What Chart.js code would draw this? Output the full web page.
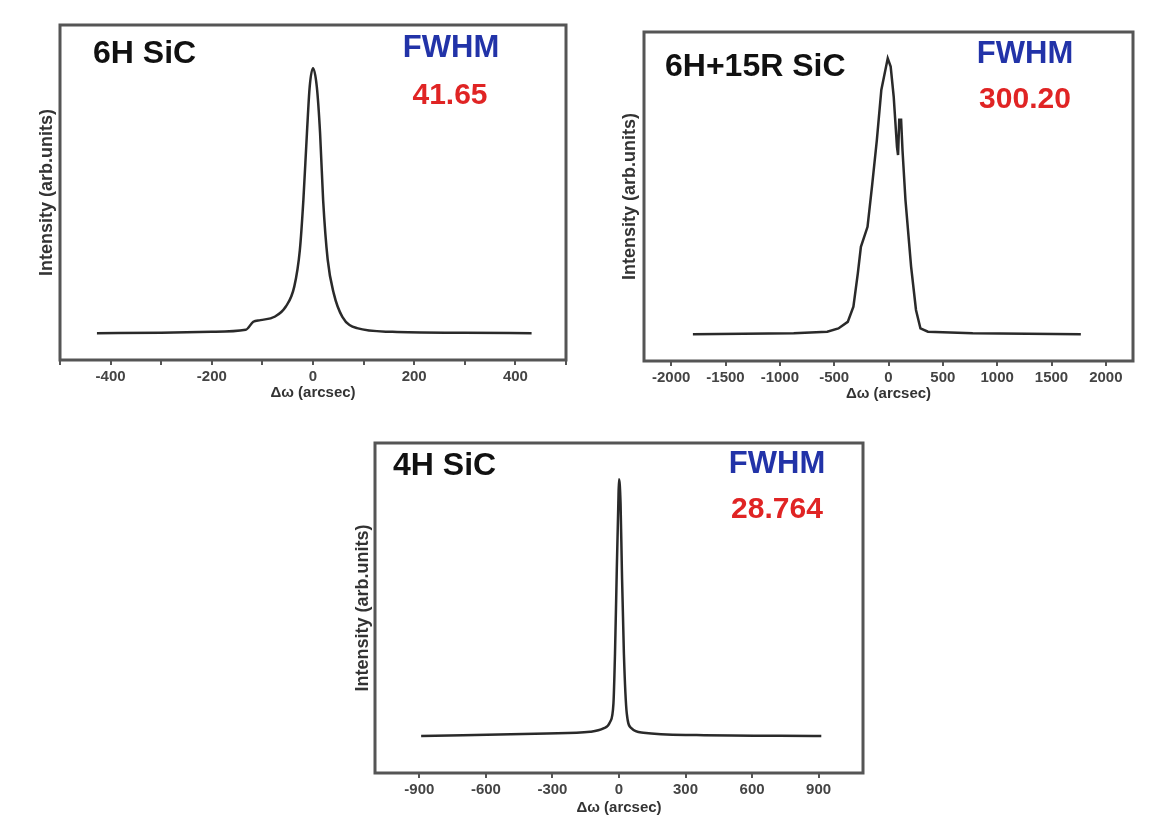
<!DOCTYPE html>
<html>
<head>
<meta charset="utf-8">
<script src="https://cdn.jsdelivr.net/npm/chart.js@4/dist/chart.umd.min.js"></script>
<style>
  html, body { margin: 0; padding: 0; background: #fff; }
  body { width: 1166px; height: 831px; position: relative; overflow: hidden; }
  canvas { position: absolute; }
</style>
</head>
<body>
<canvas id="c1" width="580" height="410" style="left:0px;top:0px;"></canvas>
<canvas id="c2" width="586" height="410" style="left:580px;top:0px;"></canvas>
<canvas id="c3" width="600" height="416" style="left:300px;top:415px;"></canvas>
<script>
// ---- data (intensity in arbitrary units) ----
const sic6hX = [-427, -300, -200, -133, -118, -104, -76, -54, -37, -26, -19, -12, -6.5, 0, 7.5, 14, 20, 29, 41, 58, 87, 157, 298, 432];
const sic6hY = [8.0, 8.1, 8.4, 9.0, 11.4, 11.9, 12.9, 15.9, 21.9, 32.8, 47.8, 67.7, 81.6, 87.1, 81.6, 67.7, 47.8, 30.0, 19.9, 12.9, 9.5, 8.4, 8.1, 8.0];

const sic6h15rX = [-1800, -872, -564, -461, -375, -323, -282, -254, -193, -152, -107, -66, -7, 20, 48, 78, 88, 99, 116, 129, 156, 208, 253, 294, 363, 775, 1770];
const sic6h15rY = [8.1, 8.4, 8.9, 9.9, 11.9, 16.5, 26.7, 34.7, 40.8, 53.0, 67.2, 82.4, 92.0, 89.5, 80.3, 65.1, 62.6, 73.3, 73.3, 64.0, 49.0, 28.7, 15.5, 9.9, 8.9, 8.4, 8.1];

const sic4hX = [-892, -325, -130, -70, -40, -25, -18, -10, -3, 0, 7, 13, 22, 35, 57, 110, 350, 912];
const sic4hY = [11.2, 12.0, 12.5, 13.5, 15.5, 21.1, 36.3, 61.5, 81.7, 89.0, 81.7, 61.5, 36.3, 18.1, 13.5, 12.2, 11.5, 11.2];

const sampleNames = ['6H SiC', '6H+15R SiC', '4H SiC'];
const fwhmValues = ['41.65', '300.20', '28.764'];
const xRanges = [[-500, 500], [-2250, 2250], [-1100, 1100]];
// tick marks (all) and which of them carry a label
const tickMarks1 = [-500, -400, -300, -200, -100, 0, 100, 200, 300, 400, 500];
const tickLabels1 = [-400, -200, 0, 200, 400];
const tickMarks2 = [-2000, -1500, -1000, -500, 0, 500, 1000, 1500, 2000];
const tickLabels2 = [-2000, -1500, -1000, -500, 0, 500, 1000, 1500, 2000];
const tickMarks3 = [-900, -600, -300, 0, 300, 600, 900];
const tickLabels3 = [-900, -600, -300, 0, 300, 600, 900];
const tickMarks = [tickMarks1, tickMarks2, tickMarks3];
const tickLabels = [tickLabels1, tickLabels2, tickLabels3];

const xTitle = 'Δω (arcsec)';
const yTitle = 'Intensity (arb.units)';

const framePlugin = {
  id: 'frameText',
  afterDraw(chart, args, opts) {
    const { ctx, chartArea: a } = chart;
    ctx.save();
    ctx.strokeStyle = '#555';
    ctx.lineWidth = 3;
    ctx.strokeRect(a.left, a.top, a.right - a.left, a.bottom - a.top);
    (opts.texts || []).forEach(t => {
      ctx.font = t.font;
      ctx.fillStyle = t.color;
      ctx.textAlign = t.align;
      ctx.textBaseline = 'middle';
      ctx.fillText(t.text, t.x, t.y);
    });
    ctx.restore();
  }
};

const F = 'Liberation Sans, Arial, sans-serif';

function makeChart(id, xs, ys, idx, layout, tension) {
  const pts = xs.map((x, i) => ({ x: x, y: ys[i] }));
  const labels = tickLabels[idx];
  return new Chart(document.getElementById(id), {
    type: 'line',
    data: {
      datasets: [{
        data: pts,
        borderColor: '#2a2a2a',
        borderWidth: 2.5,
        pointRadius: 0,
        fill: false,
        tension: tension,
        cubicInterpolationMode: tension > 0 ? 'monotone' : 'default'
      }]
    },
    options: {
      responsive: false,
      animation: false,
      devicePixelRatio: 1,
      layout: { padding: layout.padding },
      plugins: {
        legend: { display: false },
        tooltip: { enabled: false },
        frameText: { texts: layout.texts }
      },
      scales: {
        x: {
          type: 'linear',
          min: xRanges[idx][0],
          max: xRanges[idx][1],
          afterBuildTicks: s => { s.ticks = tickMarks[idx].map(v => ({ value: v })); },
          afterFit: s => { s.height = layout.xh; },
          grid: { display: true, drawOnChartArea: false, drawTicks: true, tickLength: 5, color: '#555', lineWidth: 2 },
          border: { display: false },
          ticks: {
            autoSkip: false,
            maxRotation: 0,
            padding: 3,
            color: '#444',
            font: { family: F, size: 15, weight: 'bold' },
            callback: v => (labels.includes(v) ? String(v) : '')
          },
          title: {
            display: true,
            text: xTitle,
            color: '#333',
            font: { family: F, size: 15, weight: 'bold' },
            padding: { top: 0, bottom: layout.xtPad }
          }
        },
        y: {
          min: 0,
          max: 100,
          afterFit: s => { s.width = layout.yw; },
          ticks: { display: false },
          grid: { display: false },
          border: { display: false },
          title: {
            display: true,
            text: yTitle,
            color: '#333',
            font: { family: F, size: 18, weight: 'bold' },
            padding: { top: layout.ytPad, bottom: 0 }
          }
        }
      }
    },
    plugins: [framePlugin]
  });
}

const blue = '#2233a8';
const red = '#e02424';

makeChart('c1', sic6hX, sic6hY, 0, {
  padding: { left: 0, top: 25, right: 14, bottom: 0 },
  xh: 50, yw: 60, xtPad: 8.5, ytPad: 36,
  texts: [
    { text: sampleNames[0], x: 93, y: 54, align: 'left', color: '#111', font: 'bold 32px ' + F },
    { text: 'FWHM', x: 451, y: 48, align: 'center', color: blue, font: 'bold 31px ' + F },
    { text: fwhmValues[0], x: 450, y: 96, align: 'center', color: red, font: 'bold 30px ' + F }
  ]
}, 0.4);

makeChart('c2', sic6h15rX, sic6h15rY, 1, {
  padding: { left: 0, top: 32, right: 33, bottom: 0 },
  xh: 49, yw: 64, xtPad: 7.5, ytPad: 39,
  texts: [
    { text: sampleNames[1], x: 85, y: 67, align: 'left', color: '#111', font: 'bold 32px ' + F },
    { text: 'FWHM', x: 445, y: 54, align: 'center', color: blue, font: 'bold 31px ' + F },
    { text: fwhmValues[1], x: 445, y: 100, align: 'center', color: red, font: 'bold 30px ' + F }
  ]
}, 0);

makeChart('c3', sic4hX, sic4hY, 2, {
  padding: { left: 0, top: 28, right: 37, bottom: 0 },
  xh: 58, yw: 75, xtPad: 14.5, ytPad: 52,
  texts: [
    { text: sampleNames[2], x: 93, y: 51, align: 'left', color: '#111', font: 'bold 32px ' + F },
    { text: 'FWHM', x: 477, y: 49, align: 'center', color: blue, font: 'bold 31px ' + F },
    { text: fwhmValues[2], x: 477, y: 95, align: 'center', color: red, font: 'bold 30px ' + F }
  ]
}, 0.4);
</script>
</body>
</html>
